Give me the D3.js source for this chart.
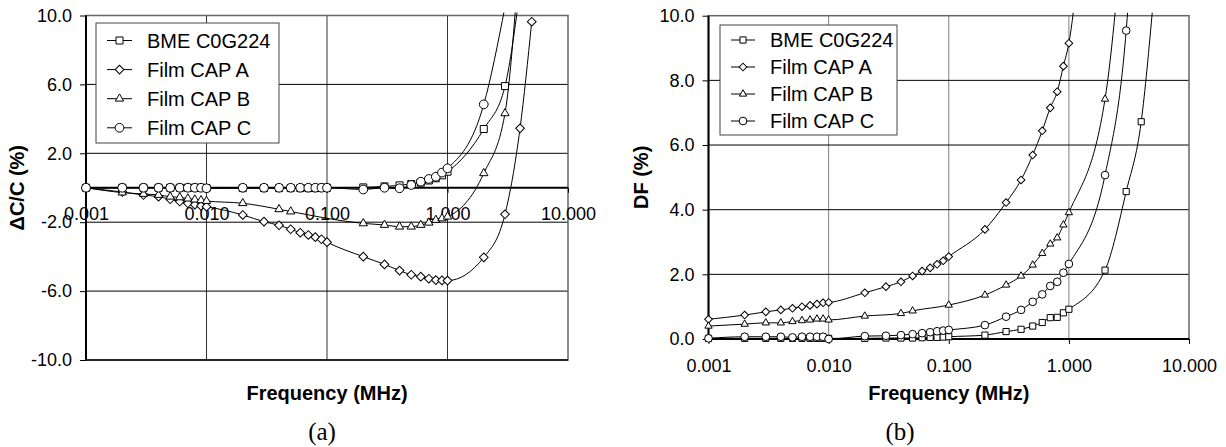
<!DOCTYPE html>
<html>
<head>
<meta charset="utf-8">
<script src="https://cdn.jsdelivr.net/npm/d3@7"></script>
<style>
    body { margin: 0; background: white; }
    svg text { font-family: "Liberation Sans", Arial, sans-serif; fill: black; }
</style>
</head>
<body>
<svg id="mainSvg" width="1226" height="447"></svg>
<script>
// frequencies (MHz), shared by every series; null = no point measured there
var freq = [0.001, 0.002, 0.003, 0.004, 0.005, 0.006, 0.007, 0.008, 0.009, 0.01,
            0.02, 0.03, 0.04, 0.05, 0.06, 0.07, 0.08, 0.09, 0.1,
            0.2, 0.3, 0.4, 0.5, 0.6, 0.7, 0.8, 0.9, 1,
            2, 3, 4, 5];
var seriesNames = ["BME C0G224", "Film CAP A", "Film CAP B", "Film CAP C"];
var markerTypes = ["square", "diamond", "triangle", "circle"];

// (a) capacitance change, %
var dcBME = [0, 0, 0, 0, 0, 0, 0, 0, 0, -0.02,
             -0.02, -0.02, -0.02, -0.02, -0.02, -0.02, -0.02, 0, 0,
             0.02, 0.08, 0.14, 0.22, 0.3, 0.42, 0.55, 0.72, 0.93,
             3.41, 5.9, 11.5, null];
var dcA = [0, -0.25, -0.42, -0.52, -0.67, -0.8, -0.9, -0.98, -1.05, -1.1,
           -1.58, -1.97, -2.18, -2.41, -2.61, -2.74, -2.87, -2.99, -3.16,
           -4.0, -4.45, -4.81, -5.05, -5.16, -5.28, -5.36, -5.38, -5.39,
           -4.04, -1.54, 3.45, 9.64];
var dcB = [0, -0.28, -0.36, -0.42, -0.52, -0.56, -0.63, -0.69, -0.73, -0.77,
           -0.9, null, -1.25, -1.38, null, null, null, null, null,
           -2.07, -2.16, -2.26, -2.26, -2.16, -2.03, -1.87, -1.78, -1.68,
           0.84, 4.32, 14, null];
var dcC = [0, 0, 0, 0, 0, 0, 0, 0, 0, -0.03,
           0, 0, 0, 0, 0, 0, 0, 0, 0,
           -0.1, 0, -0.03, 0.16, 0.35, 0.51, 0.64, 0.88, 1.13,
           4.84, 10.5, null, null];

// (b) dissipation factor, %
var dfBME = [0.02, 0.02, 0.02, 0.02, 0.02, 0.02, 0.02, 0.02, 0.02, 0.02,
             0.02, 0.03, 0.03, 0.03, 0.04, 0.05, 0.05, 0.06, 0.07,
             0.12, 0.23, 0.3, 0.4, 0.51, 0.66, 0.67, 0.81, 0.92,
             2.13, 4.56, 6.72, 10.3];
var dfA = [0.61, 0.74, 0.84, 0.9, 0.95, 1.0, 1.04, 1.08, 1.12, 1.13,
           1.43, 1.62, 1.77, 1.95, 2.1, 2.2, 2.31, 2.42, 2.55,
           3.39, 4.22, 4.92, 5.69, 6.44, 7.15, 7.65, 8.44, 9.15,
           25, null, null, null];
var dfB = [0.4, 0.46, 0.5, 0.5, 0.54, 0.57, 0.59, 0.62, 0.62, 0.59,
           0.71, null, 0.79, 0.87, null, null, null, null, 1.05,
           1.36, 1.67, 1.95, 2.29, 2.65, 2.94, 3.13, 3.53, 3.91,
           7.42, 14, null, null];
var dfC = [0.02, 0.07, 0.07, 0.07, 0.05, 0.07, 0.07, 0.07, 0.07, 0.0,
           0.09, 0.1, 0.12, 0.15, 0.18, 0.21, 0.24, 0.26, 0.28,
           0.43, 0.69, 0.9, 1.15, 1.38, 1.64, 1.77, 2.05, 2.32,
           5.07, 9.54, 17, null];

var xTicks = [0.001, 0.01, 0.1, 1, 10];
var dcTicks = [-10, -6, -2, 2, 6, 10];
var dfTicks = [0, 2, 4, 6, 8, 10];

var lineColor = "black";
var markerFill = "white";
var hGridColor = "black";
var borderColor = "#666";

window.addEventListener("load", drawAll);

function drawAll()
{
    const svg = d3.select("#mainSvg");
    drawChart(svg, {
        id: "a",
        left: 86, right: 568, top: 15.5, bottom: 360,
        yDomain: [-10, 10], yTicks: dcTicks, xAxisAt: 0,
        vGridColor: "#333", tickPad: 14, markerScale: 1,
        series: [dcBME, dcA, dcB, dcC],
        yTitle: "\u0394C/C (%)", yTitleX: 17, caption: "(a)", captionX: 322,
        legend: {x: 96, y: 23, w: 183, h: 120, rowY: 17.5, rowStep: 29.1, symX: 11, symW: 25, textX: 51}
    });
    drawChart(svg, {
        id: "b",
        left: 708.5, right: 1189, top: 15.7, bottom: 339,
        yDomain: [0, 10], yTicks: dfTicks, xAxisAt: 0,
        vGridColor: "#808080", tickPad: 15.5, markerScale: 0.88,
        series: [dfBME, dfA, dfB, dfC],
        yTitle: "DF (%)", yTitleX: 641, caption: "(b)", captionX: 900,
        legend: {x: 720, y: 25, w: 177, h: 110, rowY: 15, rowStep: 27, symX: 11, symW: 24, textX: 50}
    });
}

/**
 * marker path for one series type
 * */
function markerPath(type, k)
{
    if (type === "square") return d3.symbol(d3.symbolSquare, 49 * k * k)();
    if (type === "diamond") return d3.symbol(d3.symbolSquare, 38 * k * k)();
    if (type === "triangle") return d3.symbol(d3.symbolTriangle, 30 * k * k)();
    return d3.symbol(d3.symbolCircle, 60 * k * k)();
}

function drawChart(svg, cfg)
{
    const xScale = d3.scaleLog().domain([0.001, 10]).range([cfg.left, cfg.right]);
    const yScale = d3.scaleLinear().domain(cfg.yDomain).range([cfg.bottom, cfg.top]);
    const g = svg.append("g").attr("id", "chart_" + cfg.id);

    // grid lines
    g.selectAll(".vgrid").data(xTicks.slice(1, -1)).join("line")
        .attr("x1", d => xScale(d)).attr("x2", d => xScale(d))
        .attr("y1", cfg.top).attr("y2", cfg.bottom)
        .attr("stroke", cfg.vGridColor).attr("stroke-width", 1);
    g.selectAll(".hgrid").data(cfg.yTicks.filter(d => d !== cfg.yDomain[0] && d !== cfg.yDomain[1])).join("line")
        .attr("x1", cfg.left).attr("x2", cfg.right)
        .attr("y1", d => yScale(d)).attr("y2", d => yScale(d))
        .attr("stroke", hGridColor).attr("stroke-width", 1);

    // plot border
    g.append("rect")
        .attr("x", cfg.left).attr("y", cfg.top)
        .attr("width", cfg.right - cfg.left).attr("height", cfg.bottom - cfg.top)
        .attr("fill", "none").attr("stroke", borderColor).attr("stroke-width", 1.5);
    if (cfg.yDomain[0] < 0) {
        g.append("line")
            .attr("x1", cfg.left).attr("x2", cfg.right)
            .attr("y1", cfg.bottom).attr("y2", cfg.bottom)
            .attr("stroke", "black").attr("stroke-width", 1.5);
    }

    // axes
    const yAxis = d3.axisLeft(yScale).tickValues(cfg.yTicks)
        .tickFormat(d => d.toFixed(1)).tickSize(6).tickPadding(8);
    const yAxisGroup = g.append("g").attr("transform", `translate(${cfg.left}, 0)`).call(yAxis);
    const xAxis = d3.axisBottom(xScale).tickValues(xTicks)
        .tickFormat(d => d.toFixed(3)).tickSize(5).tickPadding(cfg.tickPad);
    const xAxisGroup = g.append("g").attr("transform", `translate(0, ${yScale(cfg.xAxisAt)})`).call(xAxis);
    [yAxisGroup, xAxisGroup].forEach(ax => {
        ax.select(".domain").attr("stroke", "black").attr("stroke-width", 2);
        ax.selectAll(".tick line").attr("stroke", "black").attr("stroke-width", 1);
        ax.selectAll(".tick text")
            .attr("font-size", "18px")
            .attr("font-family", "Liberation Sans, Arial, sans-serif")
            .attr("fill", "black");
    });
    yAxisGroup.select(".domain").attr("d", `M0,${cfg.top}V${cfg.bottom}`);
    xAxisGroup.select(".domain").attr("d", `M${cfg.left},0H${cfg.right}`);

    // series
    const clipId = "clip_" + cfg.id;
    svg.append("clipPath").attr("id", clipId).append("rect")
        .attr("x", cfg.left - 8).attr("y", cfg.top - 3)
        .attr("width", cfg.right - cfg.left + 16).attr("height", cfg.bottom - cfg.top + 12);
    const seriesGroup = g.append("g").attr("clip-path", `url(#${clipId})`);
    const line = d3.line()
        .x(d => xScale(d.f)).y(d => yScale(d.v))
        .curve(d3.curveMonotoneX);

    cfg.series.forEach((vals, i) => {
        const pts = freq.map((f, j) => ({f: f, v: vals[j]})).filter(d => d.v !== null);
        seriesGroup.append("path").datum(pts)
            .attr("d", line)
            .attr("fill", "none").attr("stroke", lineColor).attr("stroke-width", 1);
        const shown = pts.filter(d => d.v <= cfg.yDomain[1]);
        seriesGroup.selectAll(".m" + i).data(shown).join("path")
            .attr("class", "m" + i)
            .attr("d", markerPath(markerTypes[i], cfg.markerScale))
            .attr("transform", d => `translate(${xScale(d.f)}, ${yScale(d.v)})` + (markerTypes[i] === "diamond" ? " rotate(45)" : ""))
            .attr("fill", markerFill).attr("stroke", lineColor).attr("stroke-width", 1);
    });

    // legend
    const lg = cfg.legend;
    const legendGroup = g.append("g").attr("transform", `translate(${lg.x}, ${lg.y})`);
    legendGroup.append("rect")
        .attr("width", lg.w).attr("height", lg.h)
        .attr("fill", "white").attr("stroke", "#444").attr("stroke-width", 1);
    seriesNames.forEach((name, i) => {
        const cy = lg.rowY + i * lg.rowStep;
        legendGroup.append("line")
            .attr("x1", lg.symX).attr("x2", lg.symX + lg.symW)
            .attr("y1", cy).attr("y2", cy)
            .attr("stroke", lineColor).attr("stroke-width", 1);
        legendGroup.append("path")
            .attr("d", markerPath(markerTypes[i], cfg.markerScale))
            .attr("transform", `translate(${lg.symX + lg.symW / 2}, ${cy})` + (markerTypes[i] === "diamond" ? " rotate(45)" : ""))
            .attr("fill", markerFill).attr("stroke", lineColor).attr("stroke-width", 1);
        legendGroup.append("text")
            .attr("x", lg.textX).attr("y", cy).attr("dy", "0.36em")
            .attr("font-size", "20px")
            .text(name);
    });

    // titles
    g.append("text")
        .attr("transform", `translate(${cfg.yTitleX}, ${(cfg.top + cfg.bottom) / 2}) rotate(-90)`)
        .attr("text-anchor", "middle").attr("dy", "0.36em")
        .attr("font-size", "20px").attr("font-weight", "bold")
        .text(cfg.yTitle);
    g.append("text")
        .attr("x", (cfg.left + cfg.right) / 2).attr("y", 400)
        .attr("text-anchor", "middle")
        .attr("font-size", "20px").attr("font-weight", "bold")
        .text("Frequency (MHz)");
    g.append("text")
        .attr("x", cfg.captionX).attr("y", 440)
        .attr("text-anchor", "middle")
        .attr("font-size", "25px")
        .style("font-family", "Liberation Serif, Times New Roman, serif")
        .text(cfg.caption);
}
</script>
</body>
</html>
